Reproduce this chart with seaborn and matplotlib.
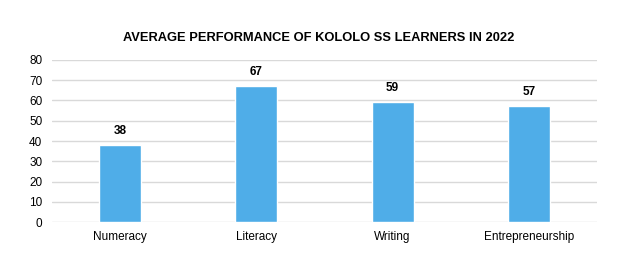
import matplotlib
matplotlib.use("Agg")
import matplotlib.pyplot as plt
import seaborn as sns
import pandas as pd

categories = ["Numeracy", "Literacy", "Writing", "Entrepreneurship"]
scores = [38, 67, 59, 57]
y_ticks = [0, 10, 20, 30, 40, 50, 60, 70, 80]
title = "AVERAGE PERFORMANCE OF KOLOLO SS LEARNERS IN 2022"

sns.set_theme(style="white")
plt.rcParams["font.family"] = ["Liberation Sans", "DejaVu Sans"]

df = pd.DataFrame({"Subject": categories, "Score": scores})

fig = plt.figure(figsize=(6.38, 2.66), dpi=100)
ax = fig.add_axes([52 / 638, 1 - 222.3 / 266, (597 - 52) / 638, (222.3 - 59.7) / 266])

sns.barplot(data=df, x="Subject", y="Score", color="#4FADE8", width=0.31,
            saturation=1, ax=ax, zorder=3)

ax.set_ylim(0, 80)
ax.set_yticks(y_ticks)
ax.set_yticklabels([str(t) for t in y_ticks], fontsize=8.5, color="#000000")
ax.tick_params(axis="x", labelsize=8.5, colors="#000000", length=0, pad=6)
ax.tick_params(axis="y", length=0, pad=7)
ax.yaxis.grid(True, color="#D9D9D9", linewidth=1, zorder=0)
ax.set_axisbelow(True)
for s in ax.spines.values():
    s.set_visible(False)
ax.set_xlabel("")
ax.set_ylabel("")

for p, v in zip(ax.patches, scores):
    ax.annotate(str(v), (p.get_x() + p.get_width() / 2, p.get_height()),
                xytext=(0, 6), textcoords="offset points", ha="center", va="bottom",
                fontsize=8.5, fontweight="bold", color="#000000")

fig.text(0.5, 1 - 38 / 266, title, ha="center", va="center", fontsize=9.3,
         fontweight="bold", color="#000000")

fig.savefig("out.png", dpi=100, facecolor="white")
